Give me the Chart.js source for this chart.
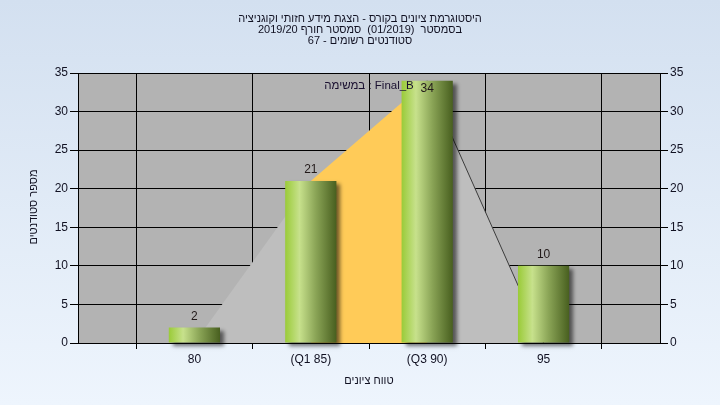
<!DOCTYPE html>
<html><head><meta charset="utf-8">
<script src="https://cdn.jsdelivr.net/npm/chart.js@4/dist/chart.umd.min.js"></script>
<style>html,body{margin:0;padding:0;overflow:hidden;background:#e0eaf6}canvas{display:block}</style>
</head><body>
<canvas id="c" width="720" height="405"></canvas>
<script>
// ---- data ----
const titleLines = ["היסטוגרמת ציונים בקורס - הצגת מידע חזותי וקוגניציה", "בסמסטר  (01/2019)  סמסטר חורף 2019/20", "סטודנטים רשומים - 67"];
const categories = ["80", "(Q1 85)", "(Q3 90)", "95"];
const studentCounts = [2, 21, 34, 10];
const quartileArea = [0, 21, 34, 0];
const yTicks = [0, 5, 10, 15, 20, 25, 30, 35];
const xTitle = "טווח ציונים";
const yTitle = "מספר סטודנטים";
const legendText = "במשימה : Final_B";

const FONT = '"Liberation Sans", "DejaVu Sans", Arial, sans-serif';
const BAR_PCT = 0.44;

const labels = ['', ...categories, ''];
const barData = [null, ...studentCounts, null];
const areaData = [null, ...quartileArea, null];
const q1Index = 1 + categories.indexOf('(Q1 85)');
const q3Index = 1 + categories.indexOf('(Q3 90)');

function barGradient(ctx) {
  const chart = ctx.chart, xs = chart.scales.x;
  if (ctx.dataIndex === undefined || !xs || !chart.chartArea || !xs.width) return '#9bcd3a';
  const cx = xs.getPixelForValue(ctx.dataIndex);
  const half = (xs.getPixelForValue(1) - xs.getPixelForValue(0)) * BAR_PCT / 2;
  const g = chart.ctx.createLinearGradient(cx - half, 0, cx + half, 0);
  g.addColorStop(0, '#9acb38');
  g.addColorStop(0.28, '#c7e18c');
  g.addColorStop(0.6, '#8aa456');
  g.addColorStop(1, '#485f1f');
  return g;
}

const bgPlugin = {
  id: 'bg',
  beforeDraw(chart) {
    const {ctx, width, height, chartArea: a} = chart;
    ctx.save();
    const g = ctx.createLinearGradient(0, 0, 0, height);
    g.addColorStop(0, '#d3e0f0');
    g.addColorStop(1, '#eef5fd');
    ctx.fillStyle = g;
    ctx.fillRect(0, 0, width, height);
    ctx.fillStyle = '#b3b3b3';
    ctx.fillRect(a.left, a.top, a.right - a.left, a.bottom - a.top);
    ctx.restore();
  }
};

const shadowPlugin = {
  id: 'barShadow',
  beforeDatasetDraw(chart, args) {
    if (chart.data.datasets[args.index].type !== 'bar') return;
    const ctx = chart.ctx;
    ctx.save();
    ctx.shadowColor = 'rgba(0,0,0,0.55)';
    ctx.shadowOffsetX = 4;
    ctx.shadowOffsetY = 3;
    ctx.shadowBlur = 4;
  },
  afterDatasetDraw(chart, args) {
    if (chart.data.datasets[args.index].type !== 'bar') return;
    chart.ctx.restore();
  }
};

const textPlugin = {
  id: 'texts',
  afterDraw(chart) {
    const {ctx, chartArea: a} = chart;
    ctx.save();
    ctx.direction = 'ltr';
    ctx.fillStyle = '#111122';
    ctx.textAlign = 'center';
    ctx.textBaseline = 'middle';
    // title
    ctx.font = '11px ' + FONT;
    titleLines.forEach((t, i) => ctx.fillText(t, 360, 18.5 + i * 11));
    // axis titles
    ctx.fillText(xTitle, (a.left + a.right) / 2, 381);
    ctx.save();
    ctx.translate(34, 207);
    ctx.rotate(-Math.PI / 2);
    ctx.fillText(yTitle, 0, 0);
    ctx.restore();
    // legend
    ctx.font = '11.5px ' + FONT;
    ctx.fillStyle = '#1a1030';
    ctx.fillText(legendText, (a.left + a.right) / 2, 86);
    // value labels
    ctx.font = '12px ' + FONT;
    const meta = chart.getDatasetMeta(0);
    ctx.fillStyle = '#221a1a';
    meta.data.forEach((el, i) => {
      const v = barData[i];
      if (v === null || v === undefined) return;
      const y = Math.max(el.y - 11, a.top + 16);
      ctx.fillText(String(v), el.x, y);
    });
    ctx.restore();
  }
};

const tickFont = {size: 12, family: FONT};
const zeroPad = s => { s.paddingTop = 0; s.paddingBottom = 0; s.paddingLeft = 0; s.paddingRight = 0; };

new Chart(document.getElementById('c'), {
  type: 'bar',
  data: {
    labels,
    datasets: [
      {
        type: 'bar',
        data: barData,
        backgroundColor: barGradient,
        borderWidth: 0,
        categoryPercentage: 1,
        barPercentage: BAR_PCT,
        order: 0,
        clip: false,
        yAxisID: 'y'
      },
      {
        type: 'line',
        data: areaData,
        fill: 'origin',
        backgroundColor: '#bebebe',
        borderColor: 'transparent',
        borderWidth: 1,
        pointRadius: 0,
        tension: 0,
        order: 1,
        yAxisID: 'y',
        segment: {
          backgroundColor: c => c.p0DataIndex === q1Index ? '#ffcb58' : '#bebebe',
          borderColor: c => c.p0DataIndex === q3Index ? '#3c3c3c' : 'rgba(0,0,0,0)'
        }
      }
    ]
  },
  options: {
    responsive: false,
    animation: false,
    layout: {padding: {top: 73, left: 0, right: 0, bottom: 0}},
    plugins: {legend: {display: false}, title: {display: false}, tooltip: {enabled: false}},
    scales: {
      x: {
        type: 'category',
        offset: false,
        grid: {color: '#000', lineWidth: 1, tickLength: 6, drawOnChartArea: true},
        border: {color: '#000', width: 1},
        ticks: {color: '#111122', font: tickFont, padding: 3, maxRotation: 0, autoSkip: false},
        afterFit(s) { s.height = 62; zeroPad(s); }
      },
      y: {
        position: 'left',
        min: yTicks[0], max: yTicks[yTicks.length - 1],
        ticks: {stepSize: yTicks[1] - yTicks[0], color: '#111122', font: tickFont, padding: 2},
        grid: {color: '#000', lineWidth: 1, tickLength: 8},
        border: {color: '#000', width: 1},
        afterFit(s) { s.width = 78; zeroPad(s); }
      },
      y2: {
        position: 'right',
        min: yTicks[0], max: yTicks[yTicks.length - 1],
        ticks: {stepSize: yTicks[1] - yTicks[0], color: '#111122', font: tickFont, padding: 2},
        grid: {color: '#000', lineWidth: 1, tickLength: 8, drawOnChartArea: false},
        border: {color: '#000', width: 1},
        afterFit(s) { s.width = 60; zeroPad(s); }
      }
    }
  },
  plugins: [bgPlugin, shadowPlugin, textPlugin]
});
</script>
</body></html>
